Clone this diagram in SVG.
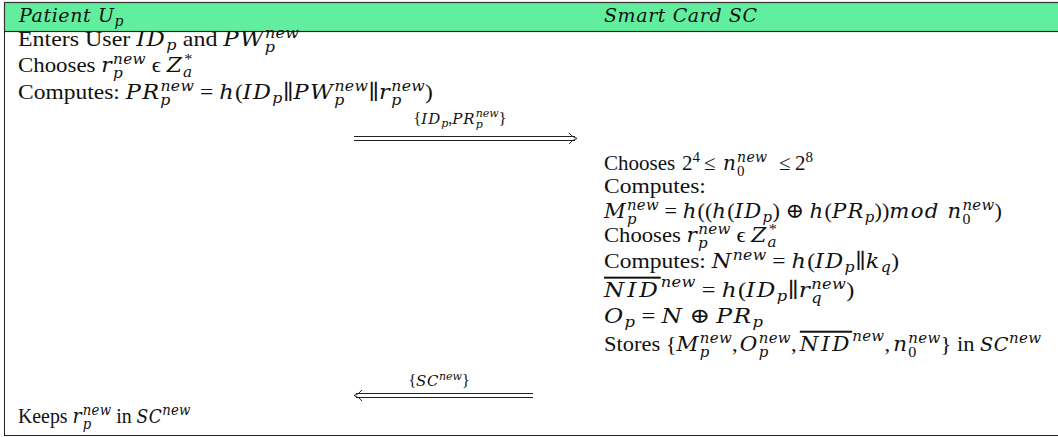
<svg xmlns="http://www.w3.org/2000/svg" width="1058" height="437" viewBox="0 0 1058 437">
<style>
.t{font-family:"Liberation Serif","DejaVu Serif",serif;font-size:21px;fill:#111}
.m{font-family:"DejaVu Serif",serif;font-style:italic;font-size:20px;letter-spacing:1.2px}
.c{font-family:"DejaVu Serif",serif;font-style:italic;font-size:18px;letter-spacing:0.5px}
.s{font-family:"DejaVu Serif",serif;font-style:italic;font-size:14px;letter-spacing:0.3px}
.d{font-family:"Liberation Serif",serif;font-size:15px}
.h{font-family:"DejaVu Serif",serif;font-style:italic;font-size:19px;letter-spacing:0.6px}
.lt{font-size:16px}
.lm{font-family:"DejaVu Serif",serif;font-style:italic;font-size:15px;letter-spacing:1px}
.ls{font-family:"DejaVu Serif",serif;font-style:italic;font-size:11px}
.ov{text-decoration:overline}
.ln{stroke:#222;stroke-width:1;fill:none}
</style>
<rect x="0" y="0" width="1058" height="437" fill="#fff"/>
<g id="frame">
<rect x="4.5" y="2.5" width="1060" height="29" fill="#61ef9f" stroke="#333" stroke-width="1.2"/>
<rect x="4.5" y="31.5" width="1060" height="404" fill="none" stroke="#222" stroke-width="1"/>
</g>
<g id="patient">
<text class="t h" x="19" y="22">Patient U<tspan class="s" dy="4">p</tspan></text>
<text class="t" x="18" y="46" transform="matrix(1.14,0,0,1,-2.52,0)">Enters User <tspan class="m">ID</tspan><tspan class="s" dy="4">p</tspan><tspan dy="-4"> and </tspan><tspan class="m">PW</tspan><tspan class="s" dy="6">p</tspan><tspan class="s" dx="-9.2" dy="-14">new</tspan></text>
<text class="t" x="18" y="72" transform="matrix(1.09,0,0,1,-1.62,0)">Chooses <tspan class="m">r</tspan><tspan class="s" dy="6">p</tspan><tspan class="s" dx="-9.2" dy="-14">new</tspan><tspan dy="8"> ϵ </tspan><tspan class="m">Z</tspan><tspan class="s" dy="5">a</tspan><tspan class="d" dx="-7.5" dy="-13">*</tspan></text>
<text class="t" x="18" y="99" transform="matrix(1.12,0,0,1,-2.16,0)">Computes: <tspan class="m">PR</tspan><tspan class="s" dy="6">p</tspan><tspan class="s" dx="-9.2" dy="-14">new</tspan><tspan dy="8"> = </tspan><tspan class="m">h</tspan>(<tspan class="m">ID</tspan><tspan class="s" dy="4">p</tspan><tspan dy="-4">∥</tspan><tspan class="m">PW</tspan><tspan class="s" dy="6">p</tspan><tspan class="s" dx="-9.2" dy="-14">new</tspan><tspan dy="8">∥</tspan><tspan class="m">r</tspan><tspan class="s" dy="6">p</tspan><tspan class="s" dx="-9.2" dy="-14">new</tspan><tspan dy="8">)</tspan></text>
<text class="t" x="18" y="423" transform="matrix(0.945,0,0,1,0.99,0)">Keeps <tspan class="m">r</tspan><tspan class="s" dy="6">p</tspan><tspan class="s" dx="-9.2" dy="-14">new</tspan><tspan dy="8"> in </tspan><tspan class="c">SC</tspan><tspan class="s" dy="-8">new</tspan></text>
</g>
<g id="smartcard">
<text class="t h" x="604" y="22">Smart Card SC</text>
<text class="t" x="604" y="170">Chooses</text>
<text class="t" x="682" y="170">2<tspan class="d" dy="-8">4</tspan></text>
<text class="t" x="704" y="170">≤</text>
<text class="t" x="723" y="170"><tspan class="m">n</tspan><tspan class="d" dy="6">0</tspan><tspan class="s" dx="-7.5" dy="-14">new</tspan></text>
<text class="t" x="779" y="170">≤</text>
<text class="t" x="795" y="170">2<tspan class="d" dy="-8">8</tspan></text>
<text class="t" x="604" y="193" transform="matrix(1.12,0,0,1,-72.48,0)">Computes:</text>
<text class="t" x="604" y="218" transform="matrix(1.06,0,0,1,-36.24,0)"><tspan class="m">M</tspan><tspan class="s" dy="6">p</tspan><tspan class="s" dx="-9.2" dy="-14">new</tspan><tspan dy="8"> = </tspan><tspan class="m">h</tspan>((<tspan class="m">h</tspan>(<tspan class="m">ID</tspan><tspan class="s" dy="4">p</tspan><tspan dy="-4">) ⊕ </tspan><tspan class="m">h</tspan>(<tspan class="m">PR</tspan><tspan class="s" dy="4">p</tspan><tspan dy="-4">))</tspan><tspan class="m">mod n</tspan><tspan class="d" dy="6">0</tspan><tspan class="s" dx="-7.5" dy="-14">new</tspan><tspan dy="8">)</tspan></text>
<text class="t" x="604" y="242" transform="matrix(1.08,0,0,1,-48.32,0)">Chooses <tspan class="m">r</tspan><tspan class="s" dy="6">p</tspan><tspan class="s" dx="-9.2" dy="-14">new</tspan><tspan dy="8"> ϵ </tspan><tspan class="m">Z</tspan><tspan class="s" dy="5">a</tspan><tspan class="d" dx="-7.5" dy="-13">*</tspan></text>
<text class="t" x="604" y="268" transform="matrix(1.12,0,0,1,-72.48,0)">Computes: <tspan class="m">N</tspan><tspan class="s" dy="-8">new</tspan><tspan dy="8"> = </tspan><tspan class="m">h</tspan>(<tspan class="m">ID</tspan><tspan class="s" dy="4">p</tspan><tspan dy="-4">∥</tspan><tspan class="m">k</tspan><tspan class="s" dy="4">q</tspan><tspan dy="-4">)</tspan></text>
<text class="t" x="604" y="297" transform="matrix(1.16,0,0,1,-96.64,0)"><tspan class="m ov" style="letter-spacing:2.5px">NID</tspan><tspan class="s" dy="-10">new</tspan><tspan dy="10"> = </tspan><tspan class="m">h</tspan>(<tspan class="m">ID</tspan><tspan class="s" dy="4">p</tspan><tspan dy="-4">∥</tspan><tspan class="m">r</tspan><tspan class="s" dy="6">q</tspan><tspan class="s" dx="-9.2" dy="-14">new</tspan><tspan dy="8">)</tspan></text>
<text class="t" x="604" y="323" transform="matrix(1.17,0,0,1,-102.68,0)"><tspan class="m">O</tspan><tspan class="s" dy="4">p</tspan><tspan dy="-4"> = </tspan><tspan class="m">N</tspan> ⊕ <tspan class="m">PR</tspan><tspan class="s" dy="4">p</tspan></text>
<text class="t" x="604" y="351" transform="matrix(1.07,0,0,1,-42.28,0)">Stores {<tspan class="m">M</tspan><tspan class="s" dy="6">p</tspan><tspan class="s" dx="-9.2" dy="-14">new</tspan><tspan dy="8">,</tspan><tspan class="m" dx="2">O</tspan><tspan class="s" dy="6">p</tspan><tspan class="s" dx="-9.2" dy="-14">new</tspan><tspan dy="8">,</tspan><tspan class="m ov" dx="3" style="letter-spacing:2.5px">NID</tspan><tspan class="s" dy="-10">new</tspan><tspan dy="10">,</tspan><tspan class="m" dx="3">n</tspan><tspan class="d" dy="6">0</tspan><tspan class="s" dx="-7.5" dy="-14">new</tspan><tspan dy="8">} in </tspan><tspan class="c">SC</tspan><tspan class="s" dy="-8">new</tspan></text>
</g>
<g id="connectors">
<text class="t lt" x="460" y="124" text-anchor="middle">{<tspan class="lm">ID</tspan><tspan class="ls" dy="3">p</tspan><tspan dy="-3">,</tspan><tspan class="lm">PR</tspan><tspan class="ls" dy="4">p</tspan><tspan class="ls" dx="-7" dy="-11">new</tspan><tspan dy="7">}</tspan></text>
<line class="ln" x1="354" y1="136.5" x2="575" y2="136.5"/>
<line class="ln" x1="354" y1="140.5" x2="575" y2="140.5"/>
<path class="ln" d="M569 133 Q572 137 577 138.5 Q572 140 569 144"/>
<text class="t lt" x="439" y="386" text-anchor="middle">{<tspan class="c" style="font-size:15px">SC</tspan><tspan class="ls" dy="-6">new</tspan><tspan dy="6">}</tspan></text>
<line class="ln" x1="356" y1="393.5" x2="533" y2="393.5"/>
<line class="ln" x1="356" y1="397.5" x2="533" y2="397.5"/>
<path class="ln" d="M362 390 Q359 394 354 395.5 Q359 397 362 401"/>
</g>
</svg>
